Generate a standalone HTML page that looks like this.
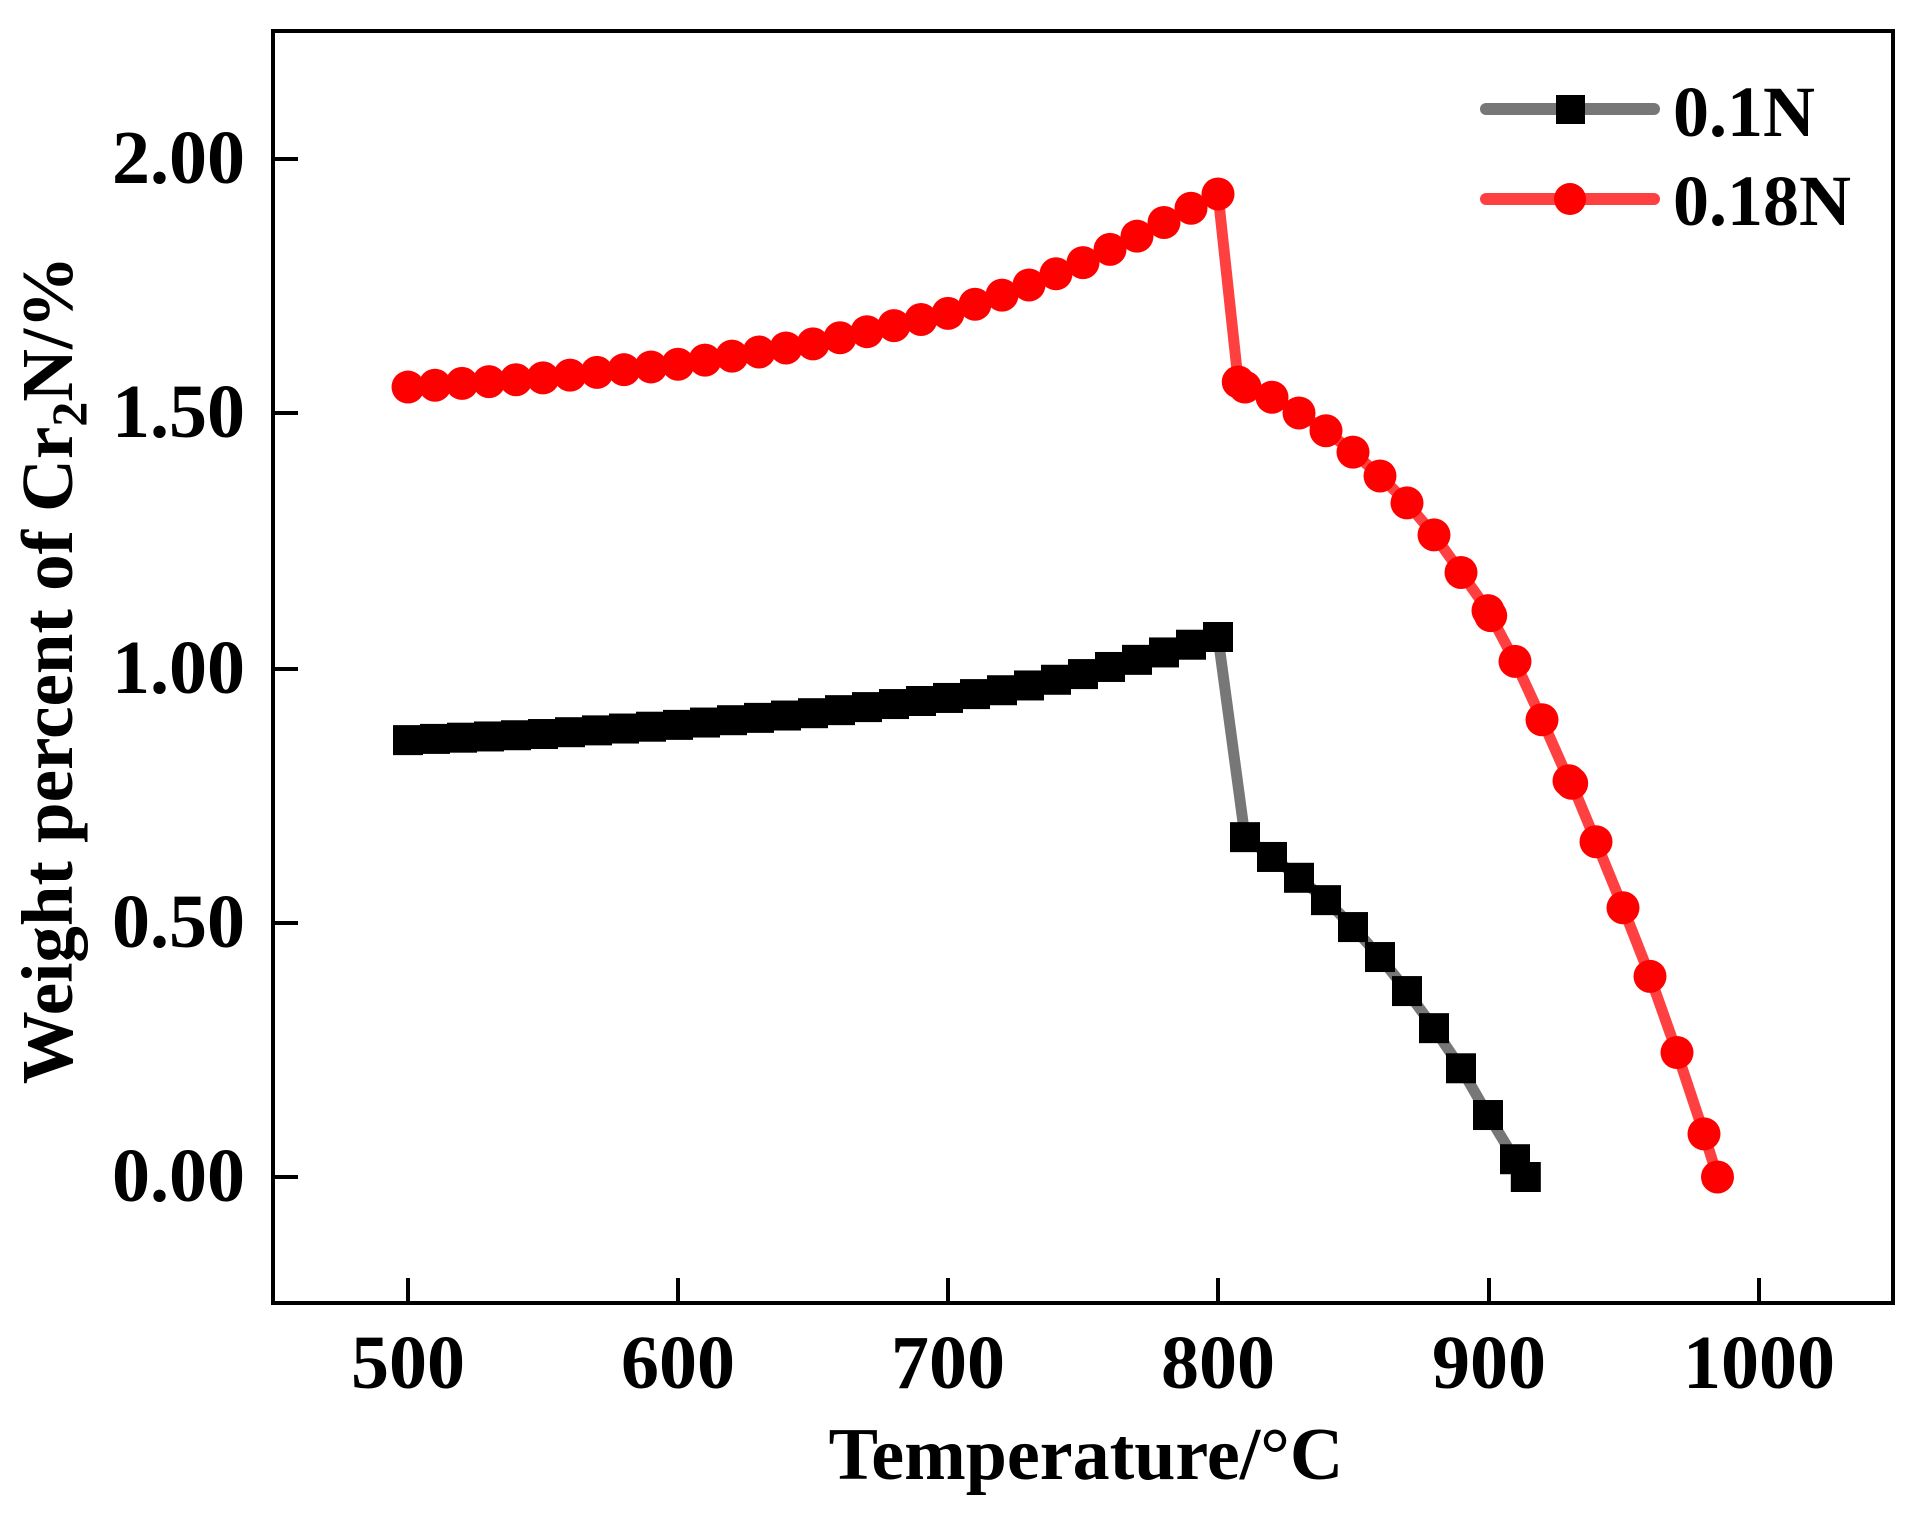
<!DOCTYPE html>
<html><head><meta charset="utf-8"><style>
html,body{margin:0;padding:0;background:#fff;}
svg{display:block;}
text{font-family:"Liberation Serif","Times New Roman",serif;font-weight:bold;fill:#000;}
</style></head><body>
<svg id="s" width="1913" height="1528" viewBox="0 0 1913 1528" xmlns="http://www.w3.org/2000/svg">
<rect x="0" y="0" width="1913" height="1528" fill="#fff"/>
<g id="data"></g>
<rect x="273" y="31" width="1620" height="1272" fill="none" stroke="#000" stroke-width="4"/>
<g stroke="#000" stroke-width="4">
<line x1="273" y1="159" x2="298" y2="159"/>
<line x1="273" y1="413" x2="298" y2="413"/>
<line x1="273" y1="669" x2="298" y2="669"/>
<line x1="273" y1="923" x2="298" y2="923"/>
<line x1="273" y1="1177" x2="298" y2="1177"/>
<line x1="408" y1="1303" x2="408" y2="1278"/>
<line x1="678" y1="1303" x2="678" y2="1278"/>
<line x1="948" y1="1303" x2="948" y2="1278"/>
<line x1="1218" y1="1303" x2="1218" y2="1278"/>
<line x1="1489" y1="1303" x2="1489" y2="1278"/>
<line x1="1759" y1="1303" x2="1759" y2="1278"/>
</g>
<g font-size="76" text-anchor="end">
<text x="245" y="183">2.00</text>
<text x="245" y="437">1.50</text>
<text x="245" y="693">1.00</text>
<text x="245" y="947">0.50</text>
<text x="245" y="1201">0.00</text>
</g>
<g font-size="76" text-anchor="middle">
<text x="408" y="1388">500</text>
<text x="678" y="1388">600</text>
<text x="948" y="1388">700</text>
<text x="1218" y="1388">800</text>
<text x="1489" y="1388">900</text>
<text x="1759" y="1388">1000</text>
</g>
<text x="1086" y="1479" font-size="74" text-anchor="middle">Temperature/°C</text>
<text transform="translate(72,670) rotate(-90)" font-size="73" text-anchor="middle">Weight percent of Cr<tspan font-size="50" dy="14">2</tspan><tspan dy="-14">N/%</tspan></text>
<g stroke-linecap="round" stroke-width="12">
<line x1="1486" y1="109" x2="1654" y2="109" stroke="#777"/>
<line x1="1486" y1="199" x2="1654" y2="199" stroke="#ff4040"/>
</g>
<rect x="1556" y="95" width="29" height="29" fill="#000"/>
<circle cx="1570" cy="199" r="16" fill="#f00"/>
<text x="1673" y="136" font-size="72">0.1N</text>
<text x="1673" y="225" font-size="72">0.18N</text>
</svg>
<script>
function px(x){return 408+(x-500)*2.7;}
function py(v){return 1177-v*508;}
function interp(k,x){for(var i=0;i<k.length-1;i++){if(x>=k[i][0]&&x<=k[i+1][0]){var t=(x-k[i][0])/(k[i+1][0]-k[i][0]);return k[i][1]+t*(k[i+1][1]-k[i][1]);}}return k[k.length-1][1];}
var rk=[[500,1.555],[550,1.573],[600,1.60],[650,1.64],[700,1.70],[725,1.745],[750,1.80],[775,1.865],[800,1.935]];
var bk=[[500,0.86],[550,0.872],[600,0.89],[650,0.913],[700,0.943],[725,0.962],[750,0.99],[775,1.025],[800,1.063]];
var red=[],blk=[];
for(var x=500;x<=800;x+=10){red.push([x,interp(rk,x)]);blk.push([x,interp(bk,x)]);}
red=red.concat([[807.5,1.565],[810,1.555],[820,1.535],[830,1.504],[840,1.469],[850,1.427],[860,1.38],[870,1.327],[880,1.264],[890,1.19],[900,1.115],[901,1.105],[910,1.015],[920,0.90],[930,0.78],[931,0.775],[940,0.66],[950,0.53],[960,0.395],[970,0.245],[980,0.085],[985,0.0]]);
blk=blk.concat([[810,0.669],[820,0.63],[830,0.589],[840,0.545],[850,0.492],[860,0.433],[870,0.366],[880,0.293],[890,0.214],[900,0.122],[910,0.035],[914,0.0]]);
var ns="http://www.w3.org/2000/svg",g=document.getElementById("data");
function pl(d,c){var p=document.createElementNS(ns,"polyline");p.setAttribute("points",d.map(function(a){return px(a[0])+","+py(a[1]);}).join(" "));p.setAttribute("fill","none");p.setAttribute("stroke",c);p.setAttribute("stroke-width","11");p.setAttribute("stroke-linejoin","round");p.setAttribute("stroke-linecap","round");g.appendChild(p);}
pl(blk,"#777");pl(red,"#ff4040");
blk.forEach(function(a){var r=document.createElementNS(ns,"rect");r.setAttribute("x",px(a[0])-15);r.setAttribute("y",py(a[1])-15);r.setAttribute("width",30);r.setAttribute("height",30);r.setAttribute("fill","#000");g.appendChild(r);});
red.forEach(function(a){var c=document.createElementNS(ns,"circle");c.setAttribute("cx",px(a[0]));c.setAttribute("cy",py(a[1]));c.setAttribute("r",16.5);c.setAttribute("fill","#f00");g.appendChild(c);});
</script>
</body></html>
